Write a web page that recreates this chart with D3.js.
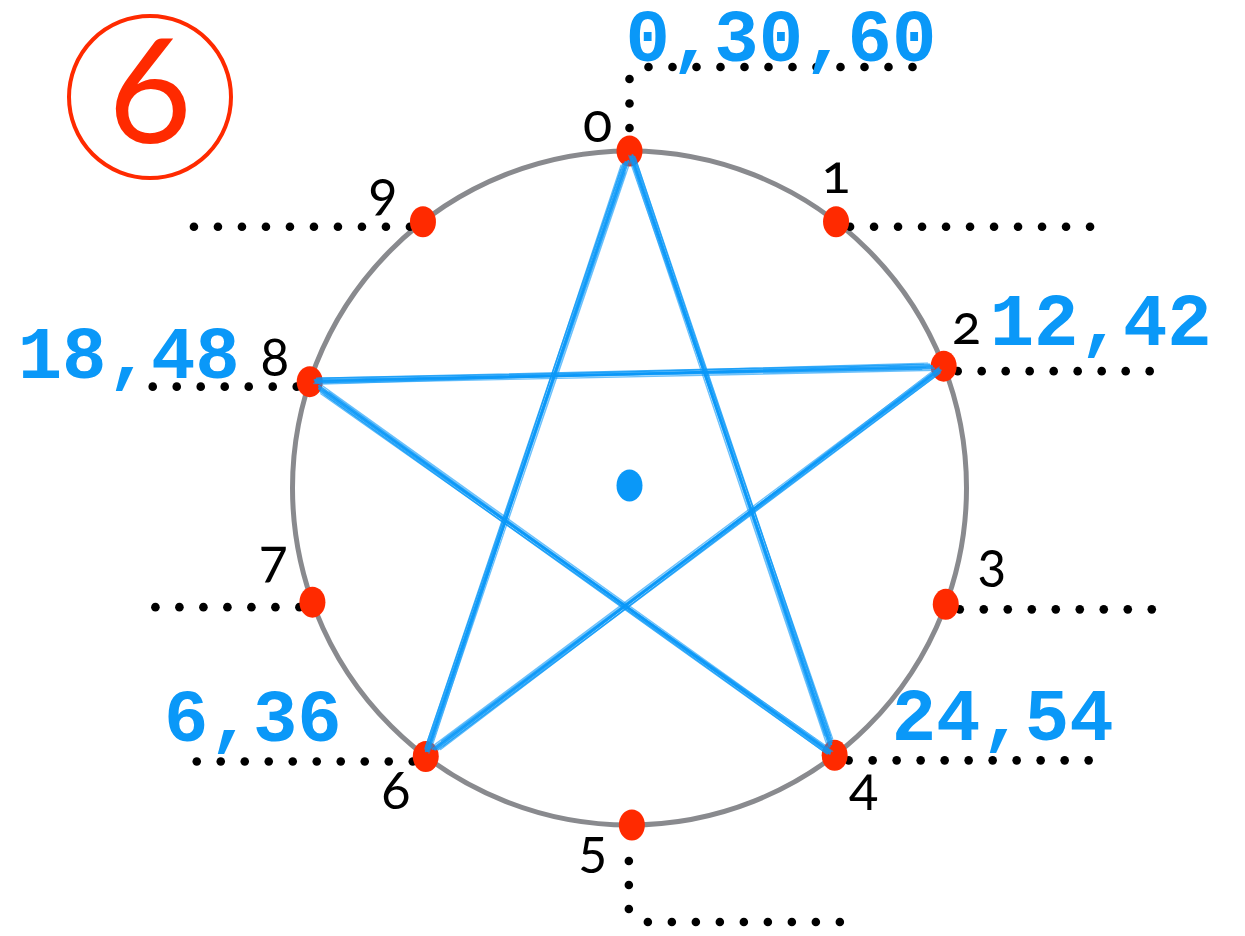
<!DOCTYPE html>
<meta charset="utf-8">
<script src="https://d3js.org/d3.v7.min.js"></script>
<style>
  body { margin: 0; background: #fff; }
</style>
<body>
<div id="my_dataviz"></div>
<script>

// digits on the ring and where each dot sits (degrees clockwise from top)
var digits = ["0", "1", "2", "3", "4", "5", "6", "7", "8", "9"];
var dotAngles = [0, 37.8, 68.8, 110.2, 142.5, 179.6, 217.2, 250.2, 288.4, 322.2];

// multiples of 6, grouped by their last digit
var multiples = [0, 6, 12, 18, 24, 30, 36, 42, 48, 54, 60];

// number of dots in each leader line
var leaderCounts = [12, 11, 9, 9, 11, 9, 10, 7, 7, 10];

var title = "6";

// layout
var width = 1245, height = 936;
var cx = 629.5, cy = 488, r = 337;
var red = "#ff2a00", blue = "#0a98f8", grey = "#898a8e";

var svg = d3.select("#my_dataviz")
  .append("svg")
    .attr("width", width)
    .attr("height", height);

var angle = d3.scaleLinear().domain([0, 360]).range([0, 2 * Math.PI]);

function pos(d) {
  var a = angle(dotAngles[d]);
  return {x: cx + r * Math.sin(a), y: cy - r * Math.cos(a)};
}

// the ring
svg.append("circle")
  .attr("cx", cx).attr("cy", cy).attr("r", r)
  .attr("fill", "none")
  .attr("stroke", grey)
  .attr("stroke-width", 5);

// leader lines made of dots
function leaderPoints(d) {
  var p = pos(d), pts = [], n = leaderCounts[d], i;
  if (d === 0) {
    for (i = 0; i < 3; i++) pts.push([p.x, p.y - 23 - i * 24.5]);
    for (i = 0; i < n; i++) pts.push([p.x + 19 + i * 24, p.y - 84]);
  } else if (d === 5) {
    for (i = 0; i < 3; i++) pts.push([p.x - 3, p.y + 36 + i * 24]);
    for (i = 0; i < n; i++) pts.push([p.x + 16 + i * 24, p.y + 97]);
  } else if (d < 5) {
    for (i = 0; i < n; i++) pts.push([p.x + 14 + i * 24, p.y + 5]);
  } else {
    for (i = 0; i < n; i++) pts.push([p.x - 13 - i * 24, p.y + 5]);
  }
  return pts;
}

var leaderData = [];
digits.forEach(function(t, d) {
  leaderPoints(d).forEach(function(pt) { leaderData.push(pt); });
});

svg.append("g").selectAll("circle")
  .data(leaderData)
  .enter()
  .append("circle")
    .attr("cx", function(d) { return d[0]; })
    .attr("cy", function(d) { return d[1]; })
    .attr("r", 4.3)
    .attr("fill", "#000");

// red dots
svg.append("g").selectAll("ellipse")
  .data(digits)
  .enter()
  .append("ellipse")
    .attr("cx", function(t, d) { return pos(d).x; })
    .attr("cy", function(t, d) { return pos(d).y; })
    .attr("rx", 13)
    .attr("ry", 15.5)
    .attr("fill", red);

// star: follow the last digit of each multiple
var path = multiples.slice(0, 6).map(function(m) { return m % 10; });
// sketchy strokes: offset at start, offset at end, width, opacity
var strokes = [[-4, -2, 1.4, 0.6], [-2, 1.5, 2.2, 0.85], [0, -0.5, 2.8, 0.9],
               [2, 3, 1.8, 0.8], [3.5, 0.5, 1.2, 0.65], [-1, 3.5, 1.0, 0.55],
               [2.5, -3, 1.0, 0.55], [-3, 0, 1.2, 0.6]];
var edges = d3.pairs(path);

var star = svg.append("g");
edges.forEach(function(e) {
  var a = pos(e[0]), b = pos(e[1]);
  var dx = b.x - a.x, dy = b.y - a.y, len = Math.sqrt(dx * dx + dy * dy);
  var nx = -dy / len, ny = dx / len, ux = dx / len, uy = dy / len;
  star.selectAll(null)
    .data(strokes)
    .enter()
    .append("line")
      .attr("x1", function(s, i) { return a.x + ux * (8 + i * 2) + nx * s[0]; })
      .attr("y1", function(s, i) { return a.y + uy * (8 + i * 2) + ny * s[0]; })
      .attr("x2", function(s, i) { return b.x - ux * (4 + i) + nx * s[1]; })
      .attr("y2", function(s, i) { return b.y - uy * (4 + i) + ny * s[1]; })
      .attr("stroke", blue)
      .attr("stroke-width", function(s) { return s[2]; })
      .attr("stroke-opacity", function(s) { return s[3]; })
      .attr("stroke-linecap", "round");
});

// centre dot
svg.append("ellipse")
  .attr("cx", cx).attr("cy", 485.5)
  .attr("rx", 13).attr("ry", 16)
  .attr("fill", blue);

// black digit labels (x centre, baseline) relative to each dot
var digitOffset = [[-32, -9], [0, -29], [23, -22], [46, -23], [29, 50],
                   [-39, 42], [-30, 53], [-39, -25], [-35, -6], [-40, -12]];

svg.append("g").selectAll("text")
  .data(digits)
  .enter()
  .append("text")
    .attr("x", function(t, d) { return pos(d).x + digitOffset[d][0]; })
    .attr("y", function(t, d) { return pos(d).y + digitOffset[d][1]; })
    .attr("text-anchor", "middle")
    .style("font-family", "Lato, 'Noto Sans', sans-serif")
    .style("font-size", "54px")
    .style("font-variant-numeric", "oldstyle-nums")
    .attr("fill", "#000")
    .text(function(t) { return t; });

// blue labels: multiples sharing a last digit
var groups = d3.groups(multiples, function(m) { return m % 10; });
var multPos = {
  0: {dx: -4, dy: -90, anchor: "start"},
  2: {dx: 46, dy: -21, anchor: "start"},
  4: {dx: 57, dy: -15, anchor: "start"},
  6: {dx: -84, dy: -15, anchor: "end"},
  8: {dx: -70, dy: -4, anchor: "end"}
};

svg.append("g").selectAll("text")
  .data(groups)
  .enter()
  .append("text")
    .attr("x", function(g) { return pos(g[0]).x + multPos[g[0]].dx; })
    .attr("y", function(g) { return pos(g[0]).y + multPos[g[0]].dy; })
    .attr("text-anchor", function(g) { return multPos[g[0]].anchor; })
    .style("font-family", "'Liberation Mono', 'Courier New', monospace")
    .style("font-weight", "bold")
    .style("font-size", "74px")
    .attr("fill", blue)
    .text(function(g) { return g[1].join(","); });

// circled title
svg.append("circle")
  .attr("cx", 150).attr("cy", 97).attr("r", 81)
  .attr("fill", "none")
  .attr("stroke", red)
  .attr("stroke-width", 4);

svg.append("text")
  .attr("x", 150).attr("y", 143)
  .attr("text-anchor", "middle")
  .style("font-family", "Lato, 'Noto Sans', sans-serif")
  .style("font-size", "145px")
  .attr("fill", red)
  .text(title);

</script>
</body>
